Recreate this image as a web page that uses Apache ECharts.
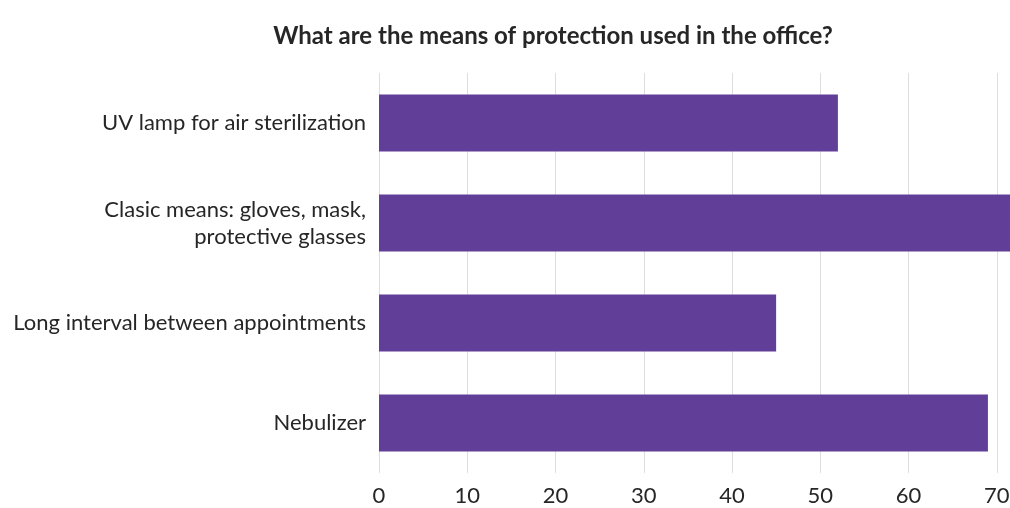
<!DOCTYPE html>
<html>
<head>
<meta charset="utf-8">
<script src="https://cdn.jsdelivr.net/npm/echarts@6/dist/echarts.min.js"></script>
<style>
  html, body { margin: 0; padding: 0; background: #ffffff; }
  #chart { width: 1010px; height: 508px; }
</style>
</head>
<body>
<div id="chart"></div>
<script>
// Means of protection used in the office (number of respondents)
const categories = [
  'Nebulizer',
  'Long interval between appointments',
  'Clasic means: gloves, mask,\nprotective glasses',
  'UV lamp for air sterilization'
];
const counts = [69, 45, 75, 52];
const tickValues = [0, 10, 20, 30, 40, 50, 60, 70, 80];

const chart = echarts.init(document.getElementById('chart'), null, { renderer: 'canvas' });

chart.setOption({
  animation: false,
  backgroundColor: '#ffffff',
  textStyle: { fontFamily: 'Lato' },
  title: {
    text: 'What are the means of protection used in the office?',
    left: 548,
    top: 19,
    textAlign: 'center',
    textStyle: { fontFamily: 'Lato', fontWeight: 'bold', fontSize: 24, color: '#262626' }
  },
  // plot area runs past the right edge of the canvas, so the 80 end is cut off
  grid: {
    left: 379, width: 706, top: 73, bottom: 35,
    containLabel: false,
    outerBoundsMode: 'none'
  },
  xAxis: {
    type: 'value',
    min: tickValues[0],
    max: tickValues[tickValues.length - 1],
    interval: 10,
    axisLine: { show: false },
    axisTick: { show: false },
    splitLine: { show: true, lineStyle: { color: '#dedede', width: 1 } },
    axisLabel: { fontSize: 22, color: '#262626', margin: 12, fontFamily: 'Lato' }
  },
  yAxis: {
    type: 'category',
    data: categories,
    axisLine: { show: false },
    axisTick: { show: false },
    axisLabel: { fontSize: 22, color: '#262626', margin: 13, lineHeight: 27, align: 'right', fontFamily: 'Lato' }
  },
  series: [{
    type: 'bar',
    data: counts,
    barWidth: 57,
    itemStyle: { color: '#613f98' }
  }]
});
</script>
</body>
</html>
